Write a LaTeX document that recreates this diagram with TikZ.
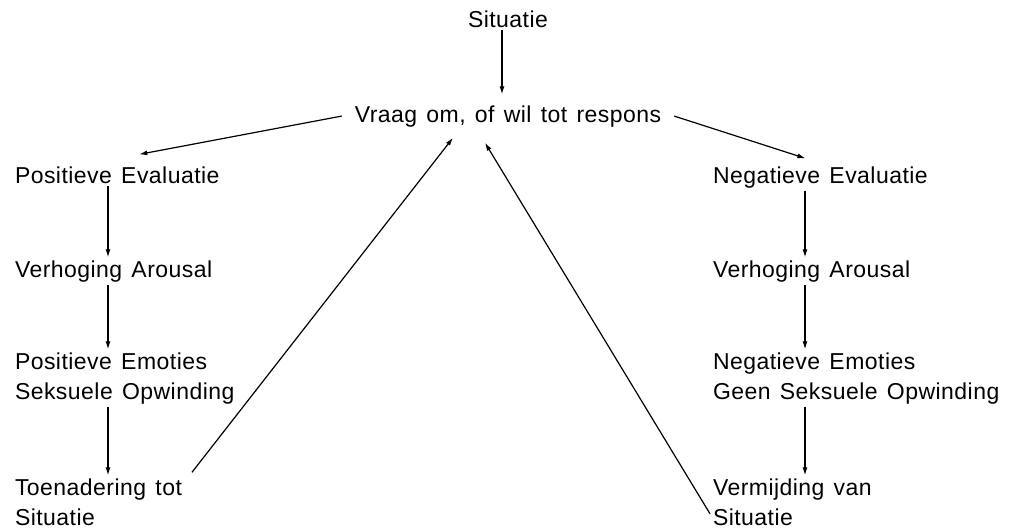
\documentclass[tikz,border=0pt]{standalone}
\usepackage{fontspec}
\setmainfont[LetterSpace=2,WordSpace=1.35]{Liberation Sans}
\usetikzlibrary{arrows.meta}

\begin{document}
\begin{tikzpicture}[x=1pt,y=-1pt,
		every node/.style={font=\fontsize{23}{30}\selectfont,inner sep=0pt,outer sep=3pt,align=left},
		pijl/.style={-{Latex[length=8pt,width=5pt]},line width=1.2pt}]
	\useasboundingbox (0,0) rectangle (1016,528);
	\node[anchor=base] (sit) at (508,27) {Situatie};
	\node[anchor=base] (vraag) at (508,122) {Vraag om, of wil tot respons};
	\node[anchor=base west] (pe) at (12,183) {Positieve Evaluatie};
	\node[anchor=base west] (pa) at (12,277) {Verhoging Arousal};
	\node[anchor=base west] (pem) at (12,399) {Positieve Emoties\\Seksuele Opwinding};
	\node[anchor=base west] (toe) at (12,525) {Toenadering tot\\Situatie};
	\node[anchor=base west] (ne) at (710,183) {Negatieve Evaluatie};
	\node[anchor=base west] (na) at (710,277) {Verhoging Arousal};
	\node[anchor=base west] (nem) at (710,399) {Negatieve Emoties\\Geen Seksuele Opwinding};
	\node[anchor=base west] (ver) at (710,525) {Vermijding van\\Situatie};
	\coordinate (lx) at (108,0);
	\coordinate (rx) at (805,0);
	\draw[pijl] ([xshift=-6pt]sit.south) -- ([xshift=-6pt,yshift=8pt]vraag.north);
	\draw[pijl] ([xshift=-10pt]vraag.west) -- ([xshift=22pt,yshift=9pt]pe.north);
	\draw[pijl] ([xshift=10pt]vraag.east) -- ([xshift=-15pt,yshift=5pt]ne.north);
	\foreach \a/\b in {pe/pa,pa/pem,pem/toe}
		\draw[pijl] (\a.south -| lx) -- (\b.north -| lx);
	\foreach \a/\b in {ne/na,na/nem,nem/ver}
		\draw[pijl] (\a.south -| rx) -- (\b.north -| rx);
	\draw[pijl] ([shift={(7pt,3pt)}]toe.north east) -- ([shift={(-55pt,-8pt)}]vraag.south);
	\draw[pijl] ([yshift=-12pt]ver.west) -- ([shift={(-23pt,-13pt)}]vraag.south);
\end{tikzpicture}
\end{document}
